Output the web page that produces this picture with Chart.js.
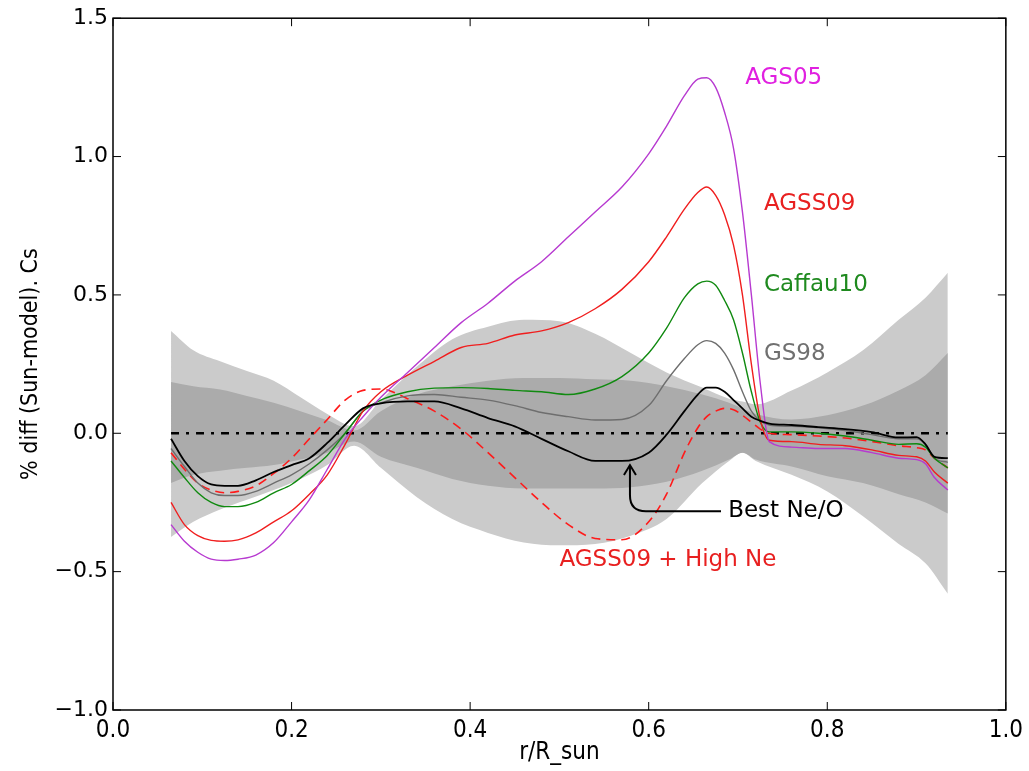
<!DOCTYPE html>
<html>
<head>
<meta charset="utf-8">
<script src="https://cdn.jsdelivr.net/npm/chart.js@4.4.0/dist/chart.umd.min.js"></script>
<style>
  body { margin: 0; background: #fff; }
  canvas { display: block; }
</style>
</head>
<body>
<canvas id="cs" width="1029" height="771"></canvas>
<script>
// radius grid for the model curves
const radius = [0.065, 0.08, 0.095, 0.11, 0.125, 0.14, 0.16, 0.18, 0.2, 0.22, 0.24, 0.26, 0.28, 0.30,
  0.33, 0.36, 0.39, 0.42, 0.45, 0.48, 0.51, 0.54, 0.57, 0.60, 0.62, 0.64, 0.655, 0.665, 0.675, 0.685,
  0.695, 0.705, 0.715, 0.725, 0.735, 0.76, 0.79, 0.82, 0.85, 0.88, 0.90, 0.91, 0.92, 0.935];

const ags05 = [-0.33, -0.39, -0.43, -0.455, -0.46, -0.455, -0.44, -0.395, -0.32, -0.24, -0.13, -0.02, 0.06, 0.13,
  0.22, 0.31, 0.40, 0.47, 0.55, 0.62, 0.71, 0.80, 0.89, 1.01, 1.11, 1.22, 1.28, 1.285, 1.25, 1.16,
  1.03, 0.80, 0.50, 0.18, -0.03, -0.05, -0.055, -0.055, -0.07, -0.09, -0.095, -0.11, -0.16, -0.205];

const agss09 = [-0.25, -0.33, -0.37, -0.387, -0.39, -0.385, -0.36, -0.32, -0.28, -0.22, -0.15, -0.04, 0.08, 0.15,
  0.21, 0.26, 0.31, 0.325, 0.355, 0.37, 0.40, 0.45, 0.52, 0.62, 0.71, 0.81, 0.87, 0.89, 0.86, 0.79,
  0.68, 0.50, 0.25, 0.05, -0.025, -0.03, -0.04, -0.045, -0.06, -0.08, -0.085, -0.10, -0.14, -0.18];

const caffau10 = [-0.10, -0.16, -0.215, -0.25, -0.265, -0.265, -0.25, -0.215, -0.185, -0.135, -0.08, 0.0, 0.08, 0.12,
  0.15, 0.163, 0.165, 0.162, 0.155, 0.15, 0.14, 0.16, 0.205, 0.29, 0.38, 0.49, 0.54, 0.55, 0.535, 0.48,
  0.41, 0.29, 0.15, 0.04, 0.005, 0.005, 0.0, -0.01, -0.025, -0.04, -0.038, -0.05, -0.09, -0.125];

const gs98 = [-0.055, -0.12, -0.18, -0.215, -0.225, -0.225, -0.21, -0.18, -0.15, -0.11, -0.06, 0.0, 0.08, 0.11,
  0.135, 0.14, 0.13, 0.12, 0.10, 0.075, 0.06, 0.048, 0.05, 0.10, 0.19, 0.27, 0.32, 0.335, 0.325, 0.29,
  0.23, 0.15, 0.08, 0.045, 0.03, 0.025, 0.02, 0.01, -0.005, -0.02, -0.02, -0.04, -0.09, -0.105];

const bestNeO = [-0.02, -0.10, -0.155, -0.185, -0.19, -0.19, -0.17, -0.14, -0.115, -0.09, -0.035, 0.03, 0.09, 0.108,
  0.115, 0.115, 0.09, 0.055, 0.025, -0.02, -0.065, -0.10, -0.10, -0.07, -0.005, 0.08, 0.14, 0.165, 0.165, 0.15,
  0.12, 0.09, 0.06, 0.045, 0.035, 0.03, 0.022, 0.015, 0.004, -0.015, -0.014, -0.04, -0.085, -0.09];

const highNe = [-0.07, -0.13, -0.18, -0.205, -0.215, -0.21, -0.19, -0.145, -0.09, -0.02, 0.05, 0.12, 0.155, 0.16,
  0.125, 0.08, 0.015, -0.07, -0.16, -0.25, -0.33, -0.38, -0.385, -0.32, -0.22, -0.07, 0.02, 0.06, 0.08, 0.09,
  0.085, 0.065, 0.04, 0.015, 0.0, -0.005, -0.01, -0.017, -0.03, -0.045, -0.052, -0.06, -0.09, -0.125];

// error bands (outer = light, inner = dark)
const bandR = [0.065, 0.09, 0.12, 0.15, 0.18, 0.21, 0.24, 0.27, 0.30, 0.34, 0.38, 0.42, 0.46, 0.50,
  0.54, 0.58, 0.62, 0.66, 0.69, 0.705, 0.72, 0.76, 0.80, 0.84, 0.88, 0.91, 0.935];
const outerHigh = [0.37, 0.30, 0.26, 0.225, 0.19, 0.13, 0.07, 0.025, 0.12, 0.24, 0.34, 0.385, 0.41, 0.405,
  0.36, 0.29, 0.22, 0.165, 0.125, 0.115, 0.105, 0.155, 0.22, 0.30, 0.41, 0.49, 0.58];
const outerLow = [-0.375, -0.32, -0.275, -0.24, -0.205, -0.165, -0.115, -0.045, -0.125, -0.23, -0.31, -0.36, -0.395, -0.405,
  -0.40, -0.37, -0.31, -0.18, -0.10, -0.07, -0.10, -0.15, -0.21, -0.30, -0.40, -0.47, -0.58];
const innerHigh = [0.185, 0.17, 0.158, 0.135, 0.11, 0.08, 0.047, 0.01, 0.08, 0.14, 0.17, 0.19, 0.20, 0.20,
  0.195, 0.19, 0.17, 0.14, 0.11, 0.09, 0.07, 0.05, 0.065, 0.10, 0.155, 0.21, 0.29];
const innerLow = [-0.18, -0.15, -0.135, -0.125, -0.115, -0.095, -0.07, -0.03, -0.085, -0.125, -0.165, -0.19, -0.20, -0.20,
  -0.20, -0.195, -0.175, -0.135, -0.095, -0.07, -0.095, -0.12, -0.155, -0.18, -0.22, -0.25, -0.29];

const zeroLine = [0.065, 0.935];

const xTicks = [0, 0.2, 0.4, 0.6, 0.8, 1.0];
const yTicks = [-1.0, -0.5, 0.0, 0.5, 1.0, 1.5];

// text labels: [text, x, y, colour]
const labels = [
  ['AGS05', 0.708, 1.285, '#e020e0'],
  ['AGSS09', 0.729, 0.83, '#e82020'],
  ['Caffau10', 0.729, 0.534, '#1f8a1f'],
  ['GS98', 0.729, 0.285, '#707070'],
  ['Best Ne/O', 0.689, -0.282, '#000000'],
  ['AGSS09 + High Ne', 0.50, -0.458, '#e82020']
];

function pts(xs, ys) {
  return xs.map((x, i) => ({ x: x, y: ys[i] }));
}

function band(ys, bg, fill, order) {
  return {
    data: pts(bandR, ys), borderWidth: 0, pointRadius: 0, backgroundColor: bg,
    fill: fill, order: order, cubicInterpolationMode: 'monotone'
  };
}

function curve(ys, color, width, dash, order) {
  return {
    data: pts(radius, ys), borderColor: color, borderWidth: width, borderDash: dash || [],
    pointRadius: 0, fill: false, order: order, cubicInterpolationMode: 'monotone'
  };
}

const minus = v => (v < 0 ? '\u2212' : '') + Math.abs(v).toFixed(1);

const decorPlugin = {
  id: 'decor',
  afterDatasetsDraw(chart) {
    const ctx = chart.ctx;
    const xs = chart.scales.x, ys = chart.scales.y;
    const a = chart.chartArea;
    ctx.save();

    // labels
    ctx.font = '23px "DejaVu Sans"';
    ctx.textBaseline = 'middle';
    ctx.textAlign = 'left';
    labels.forEach(l => {
      ctx.fillStyle = l[3];
      ctx.fillText(l[0], xs.getPixelForValue(l[1]), ys.getPixelForValue(l[2]));
    });

    // arrow to Best Ne/O curve
    const sx = xs.getPixelForValue(0.681), sy = ys.getPixelForValue(-0.282);
    const cx = xs.getPixelForValue(0.579), ty = ys.getPixelForValue(-0.115);
    const r = 16;
    ctx.strokeStyle = '#000';
    ctx.lineWidth = 2;
    ctx.beginPath();
    ctx.moveTo(sx, sy);
    ctx.lineTo(cx + r, sy);
    ctx.quadraticCurveTo(cx, sy, cx, sy - r);
    ctx.lineTo(cx, ty);
    ctx.stroke();
    ctx.beginPath();
    ctx.moveTo(cx - 6, ty + 10);
    ctx.lineTo(cx, ty);
    ctx.lineTo(cx + 6, ty + 10);
    ctx.stroke();

    // frame
    ctx.lineWidth = 1.5;
    ctx.strokeRect(a.left, a.top, a.right - a.left, a.bottom - a.top);

    // inward ticks on all sides
    ctx.lineWidth = 1;
    xTicks.forEach(v => {
      const p = xs.getPixelForValue(v);
      ctx.beginPath();
      ctx.moveTo(p, a.bottom); ctx.lineTo(p, a.bottom - 8);
      ctx.moveTo(p, a.top); ctx.lineTo(p, a.top + 8);
      ctx.stroke();
    });
    yTicks.forEach(v => {
      const p = ys.getPixelForValue(v);
      ctx.beginPath();
      ctx.moveTo(a.left, p); ctx.lineTo(a.left + 8, p);
      ctx.moveTo(a.right, p); ctx.lineTo(a.right - 8, p);
      ctx.stroke();
    });
    ctx.restore();
  }
};

const ctx = document.getElementById('cs').getContext('2d');
const chart = new Chart(ctx, {
  type: 'line',
  data: {
    datasets: [
      band(outerHigh, '#cbcbcb', '+1', 10),
      band(outerLow, '#cbcbcb', false, 10),
      band(innerHigh, '#ababab', '+1', 9),
      band(innerLow, '#ababab', false, 9),
      {
        data: pts(zeroLine, [0, 0]), borderColor: '#000', borderWidth: 2.5,
        borderDash: [8, 7, 3, 7], pointRadius: 0, fill: false, order: 7
      },
      curve(highNe, '#ff1a1a', 1.6, [9, 6], 6),
      curve(gs98, '#6e6e6e', 1.4, null, 5),
      curve(caffau10, '#108a10', 1.4, null, 4),
      curve(agss09, '#f01e1e', 1.4, null, 3),
      curve(ags05, '#b73ad0', 1.4, null, 2),
      curve(bestNeO, '#000000', 1.8, null, 1)
    ]
  },
  options: {
    responsive: false,
    animation: false,
    layout: { padding: { top: 18, right: 23, left: 0, bottom: 0 } },
    plugins: { legend: { display: false }, tooltip: { enabled: false } },
    scales: {
      x: {
        type: 'linear', min: 0, max: 1,
        afterFit: s => { s.height = 61; },
        afterBuildTicks: s => { s.ticks = xTicks.map(v => ({ value: v })); },
        grid: { display: false, drawTicks: false },
        border: { display: false },
        ticks: {
          callback: v => v.toFixed(1), color: '#000', padding: 6, maxRotation: 0,
          autoSkip: false, font: { family: 'DejaVu Sans Condensed', size: 24 }
        },
        title: {
          display: true, text: 'r/R_sun', color: '#000',
          font: { family: 'DejaVu Sans Condensed', size: 24 }, padding: { top: 0, bottom: 4 }
        }
      },
      y: {
        type: 'linear', min: -1, max: 1.5,
        afterFit: s => { s.width = 113; },
        afterBuildTicks: s => { s.ticks = yTicks.map(v => ({ value: v })); },
        grid: { display: false, drawTicks: false },
        border: { display: false },
        ticks: {
          callback: minus, color: '#000', padding: 5,
          font: { family: 'DejaVu Sans', size: 22 }
        },
        title: {
          display: true, text: '% diff (Sun-model). Cs', color: '#000',
          font: { family: 'DejaVu Sans Condensed', size: 23 }, padding: { top: 17, bottom: 0 }
        }
      }
    }
  },
  plugins: [decorPlugin]
});
</script>
</body>
</html>
